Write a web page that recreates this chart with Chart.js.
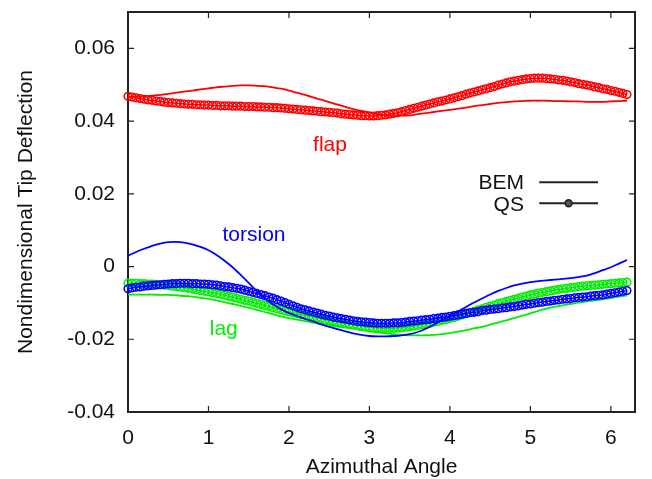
<!DOCTYPE html>
<html>
<head>
<meta charset="utf-8">
<script src="https://cdn.jsdelivr.net/npm/chart.js@4.4.1/dist/chart.umd.min.js"></script>
<style>
  html, body { margin: 0; padding: 0; background: #fff; }
  #wrap { width: 652px; height: 479px; }
</style>
</head>
<body>
<div id="wrap"><canvas id="myChart" width="652" height="479"></canvas></div>
<script>
// azimuth samples (rad)
const angleQS = [
  0, 0.05, 0.1, 0.15, 0.2, 0.25, 0.3, 0.35, 0.4, 0.45,
  0.5, 0.55, 0.6, 0.65, 0.7, 0.75, 0.8, 0.85, 0.9, 0.95,
  1, 1.05, 1.1, 1.15, 1.2, 1.25, 1.3, 1.35, 1.4, 1.45,
  1.5, 1.55, 1.6, 1.65, 1.7, 1.75, 1.8, 1.85, 1.9, 1.95,
  2, 2.05, 2.1, 2.15, 2.2, 2.25, 2.3, 2.35, 2.4, 2.45,
  2.5, 2.55, 2.6, 2.65, 2.7, 2.75, 2.8, 2.85, 2.9, 2.95,
  3, 3.05, 3.1, 3.15, 3.2, 3.25, 3.3, 3.35, 3.4, 3.45,
  3.5, 3.55, 3.6, 3.65, 3.7, 3.75, 3.8, 3.85, 3.9, 3.95,
  4, 4.05, 4.1, 4.15, 4.2, 4.25, 4.3, 4.35, 4.4, 4.45,
  4.5, 4.55, 4.6, 4.65, 4.7, 4.75, 4.8, 4.85, 4.9, 4.95,
  5, 5.05, 5.1, 5.15, 5.2, 5.25, 5.3, 5.35, 5.4, 5.45,
  5.5, 5.55, 5.6, 5.65, 5.7, 5.75, 5.8, 5.85, 5.9, 5.95,
  6, 6.05, 6.1, 6.15, 6.2
];
const angleBEM = [
  0, 0.1, 0.2, 0.3, 0.4, 0.5, 0.6, 0.7, 0.8, 0.9,
  1, 1.1, 1.2, 1.3, 1.4, 1.5, 1.6, 1.7, 1.8, 1.9,
  2, 2.1, 2.2, 2.3, 2.4, 2.5, 2.6, 2.7, 2.8, 2.9,
  3, 3.1, 3.2, 3.3, 3.4, 3.5, 3.6, 3.7, 3.8, 3.9,
  4, 4.1, 4.2, 4.3, 4.4, 4.5, 4.6, 4.7, 4.8, 4.9,
  5, 5.1, 5.2, 5.3, 5.4, 5.5, 5.6, 5.7, 5.8, 5.9,
  6, 6.1, 6.2
];

// flap
const flapBEM = [
  0.0466, 0.0467, 0.0468, 0.0470, 0.0472, 0.0475, 0.0478, 0.0481, 0.0484, 0.0487,
  0.0490, 0.0493, 0.0495, 0.0497, 0.0498, 0.0498, 0.0497, 0.0496, 0.0493, 0.0489,
  0.0484, 0.0478, 0.0472, 0.0465, 0.0459, 0.0452, 0.0446, 0.0439, 0.0433, 0.0428,
  0.0424, 0.0419, 0.0416, 0.0415, 0.0415, 0.0416, 0.0419, 0.0422, 0.0425, 0.0428,
  0.0431, 0.0434, 0.0437, 0.0441, 0.0444, 0.0447, 0.0450, 0.0452, 0.0454, 0.0455,
  0.0456, 0.0456, 0.0456, 0.0455, 0.0455, 0.0454, 0.0454, 0.0453, 0.0453, 0.0453,
  0.0454, 0.0455, 0.0456
];
const flapQS = [
  0.0468, 0.0466, 0.0464, 0.0462, 0.0460, 0.0458, 0.0457, 0.0455, 0.0454, 0.0452,
  0.0451, 0.0450, 0.0449, 0.0448, 0.0447, 0.0446, 0.0446, 0.0445, 0.0445, 0.0444,
  0.0444, 0.0443, 0.0443, 0.0442, 0.0442, 0.0442, 0.0441, 0.0441, 0.0441, 0.0440,
  0.0440, 0.0440, 0.0439, 0.0439, 0.0438, 0.0438, 0.0437, 0.0437, 0.0436, 0.0435,
  0.0434, 0.0433, 0.0432, 0.0431, 0.0430, 0.0429, 0.0428, 0.0427, 0.0426, 0.0425,
  0.0424, 0.0423, 0.0422, 0.0420, 0.0419, 0.0418, 0.0417, 0.0416, 0.0415, 0.0415,
  0.0414, 0.0414, 0.0415, 0.0416, 0.0417, 0.0419, 0.0421, 0.0423, 0.0426, 0.0429,
  0.0432, 0.0435, 0.0438, 0.0441, 0.0444, 0.0447, 0.0450, 0.0453, 0.0455, 0.0458,
  0.0461, 0.0464, 0.0467, 0.0470, 0.0474, 0.0477, 0.0480, 0.0483, 0.0486, 0.0489,
  0.0492, 0.0495, 0.0499, 0.0502, 0.0505, 0.0508, 0.0510, 0.0512, 0.0514, 0.0516,
  0.0517, 0.0518, 0.0518, 0.0518, 0.0517, 0.0516, 0.0515, 0.0513, 0.0512, 0.0510,
  0.0508, 0.0506, 0.0503, 0.0501, 0.0499, 0.0497, 0.0494, 0.0492, 0.0489, 0.0487,
  0.0484, 0.0482, 0.0479, 0.0476, 0.0473
];

// torsion
const torsionBEM = [
  0.0030, 0.0040, 0.0049, 0.0057, 0.0063, 0.0067, 0.0068, 0.0066, 0.0061, 0.0054,
  0.0045, 0.0032, 0.0016, -0.0002, -0.0023, -0.0045, -0.0068, -0.0087, -0.0104, -0.0117,
  -0.0128, -0.0136, -0.0144, -0.0151, -0.0159, -0.0166, -0.0172, -0.0178, -0.0184, -0.0188,
  -0.0191, -0.0192, -0.0192, -0.0191, -0.0189, -0.0186, -0.0180, -0.0171, -0.0160, -0.0148,
  -0.0137, -0.0124, -0.0111, -0.0099, -0.0088, -0.0077, -0.0067, -0.0059, -0.0052, -0.0047,
  -0.0043, -0.0040, -0.0038, -0.0036, -0.0034, -0.0032, -0.0029, -0.0025, -0.0018, -0.0010,
  -0.0002, 0.0008, 0.0018
];
const torsionQS = [
  -0.0061, -0.0059, -0.0057, -0.0056, -0.0054, -0.0053, -0.0052, -0.0051, -0.0050, -0.0049,
  -0.0048, -0.0047, -0.0047, -0.0046, -0.0046, -0.0046, -0.0047, -0.0047, -0.0048, -0.0048,
  -0.0049, -0.0050, -0.0051, -0.0053, -0.0055, -0.0056, -0.0058, -0.0060, -0.0062, -0.0065,
  -0.0068, -0.0071, -0.0074, -0.0077, -0.0080, -0.0084, -0.0087, -0.0091, -0.0095, -0.0099,
  -0.0104, -0.0108, -0.0112, -0.0116, -0.0119, -0.0122, -0.0125, -0.0128, -0.0131, -0.0134,
  -0.0136, -0.0139, -0.0141, -0.0143, -0.0145, -0.0147, -0.0149, -0.0151, -0.0152, -0.0153,
  -0.0154, -0.0155, -0.0156, -0.0156, -0.0156, -0.0156, -0.0155, -0.0155, -0.0154, -0.0153,
  -0.0151, -0.0150, -0.0149, -0.0147, -0.0146, -0.0145, -0.0143, -0.0142, -0.0140, -0.0139,
  -0.0137, -0.0135, -0.0133, -0.0131, -0.0129, -0.0127, -0.0126, -0.0124, -0.0121, -0.0120,
  -0.0118, -0.0117, -0.0116, -0.0114, -0.0113, -0.0111, -0.0110, -0.0108, -0.0106, -0.0104,
  -0.0103, -0.0101, -0.0099, -0.0098, -0.0096, -0.0095, -0.0093, -0.0092, -0.0090, -0.0089,
  -0.0088, -0.0086, -0.0085, -0.0084, -0.0083, -0.0081, -0.0080, -0.0079, -0.0078, -0.0076,
  -0.0074, -0.0072, -0.0070, -0.0068, -0.0066
];

// lag
const lagBEM = [
  -0.0077, -0.0077, -0.0077, -0.0077, -0.0078, -0.0078, -0.0079, -0.0081, -0.0083, -0.0086,
  -0.0089, -0.0093, -0.0098, -0.0103, -0.0108, -0.0113, -0.0119, -0.0125, -0.0131, -0.0137,
  -0.0142, -0.0146, -0.0150, -0.0154, -0.0158, -0.0161, -0.0165, -0.0168, -0.0171, -0.0175,
  -0.0178, -0.0181, -0.0184, -0.0186, -0.0188, -0.0189, -0.0189, -0.0189, -0.0188, -0.0186,
  -0.0183, -0.0179, -0.0175, -0.0170, -0.0166, -0.0160, -0.0154, -0.0148, -0.0142, -0.0135,
  -0.0129, -0.0122, -0.0116, -0.0111, -0.0107, -0.0103, -0.0099, -0.0096, -0.0093, -0.0090,
  -0.0087, -0.0083, -0.0079
];
const lagQS = [
  -0.0046, -0.0046, -0.0046, -0.0047, -0.0047, -0.0048, -0.0048, -0.0049, -0.0050, -0.0051,
  -0.0052, -0.0054, -0.0055, -0.0057, -0.0058, -0.0060, -0.0062, -0.0064, -0.0066, -0.0068,
  -0.0070, -0.0072, -0.0074, -0.0076, -0.0079, -0.0082, -0.0084, -0.0087, -0.0090, -0.0093,
  -0.0095, -0.0098, -0.0101, -0.0104, -0.0107, -0.0110, -0.0113, -0.0116, -0.0119, -0.0122,
  -0.0124, -0.0127, -0.0129, -0.0132, -0.0134, -0.0137, -0.0139, -0.0141, -0.0143, -0.0146,
  -0.0148, -0.0150, -0.0152, -0.0154, -0.0156, -0.0158, -0.0160, -0.0162, -0.0164, -0.0166,
  -0.0167, -0.0168, -0.0169, -0.0170, -0.0170, -0.0170, -0.0170, -0.0169, -0.0168, -0.0167,
  -0.0165, -0.0164, -0.0162, -0.0160, -0.0158, -0.0156, -0.0153, -0.0151, -0.0148, -0.0146,
  -0.0143, -0.0140, -0.0137, -0.0133, -0.0130, -0.0126, -0.0123, -0.0119, -0.0116, -0.0112,
  -0.0109, -0.0106, -0.0102, -0.0099, -0.0096, -0.0093, -0.0090, -0.0087, -0.0084, -0.0081,
  -0.0078, -0.0076, -0.0073, -0.0071, -0.0069, -0.0067, -0.0065, -0.0063, -0.0061, -0.0060,
  -0.0058, -0.0057, -0.0055, -0.0054, -0.0053, -0.0052, -0.0051, -0.0050, -0.0049, -0.0048,
  -0.0047, -0.0046, -0.0045, -0.0044, -0.0043
];

const xTicks = [0, 1, 2, 3, 4, 5, 6];
const yTicks = [-0.04, -0.02, 0, 0.02, 0.04, 0.06];

const RED = 'rgb(255,0,0)';
const GREEN = 'rgb(0,238,0)';
const BLUE = 'rgb(0,0,255)';
const INK = '#111';
const FONT = "'Liberation Sans', Arial, Helvetica, sans-serif";
const FS = 21;

// curve labels, in axis units
const curveLabels = [
  { text: 'flap', x: 2.51, y: 0.0318, color: RED },
  { text: 'torsion', x: 1.566, y: 0.0071, color: BLUE },
  { text: 'lag', x: 1.19, y: -0.0188, color: GREEN }
];

function pts(xs, ys) {
  return xs.map((x, i) => ({ x: x, y: ys[i] }));
}

function bem(data, color, order) {
  return {
    label: 'BEM', data: data, showLine: true, borderColor: color, borderWidth: 1.8,
    pointRadius: 0, pointHoverRadius: 0, tension: 0.3, clip: false, order: order
  };
}

function qs(data, color, order) {
  return {
    label: 'QS', data: data, showLine: true, borderColor: color, borderWidth: 1.5,
    pointStyle: 'circle', pointRadius: 3.8, pointBorderWidth: 1.6,
    pointBorderColor: color, pointBackgroundColor: 'rgba(255,255,255,0)',
    tension: 0.3, clip: false, order: order
  };
}

// gnuplot style box with inward ticks, legend and curve labels
const framePlugin = {
  id: 'frame',
  beforeDatasetsDraw(chart) {
    const { ctx, chartArea: a, scales } = chart;
    ctx.save();
    ctx.strokeStyle = '#222';
    ctx.lineWidth = 2;
    ctx.strokeRect(a.left, a.top, a.right - a.left, a.bottom - a.top);
    ctx.lineWidth = 1.2;
    ctx.beginPath();
    xTicks.forEach(v => {
      const px = scales.x.getPixelForValue(v);
      ctx.moveTo(px, a.bottom); ctx.lineTo(px, a.bottom - 6);
      ctx.moveTo(px, a.top); ctx.lineTo(px, a.top + 6);
    });
    yTicks.forEach(v => {
      const py = scales.y.getPixelForValue(v);
      ctx.moveTo(a.left, py); ctx.lineTo(a.left + 6, py);
      ctx.moveTo(a.right, py); ctx.lineTo(a.right - 6, py);
    });
    ctx.stroke();
    ctx.restore();
  },
  afterDatasetsDraw(chart) {
    const { ctx, scales } = chart;
    ctx.save();
    ctx.font = FS + 'px ' + FONT;
    ctx.textAlign = 'center';
    ctx.textBaseline = 'alphabetic';
    curveLabels.forEach(l => {
      ctx.fillStyle = l.color;
      ctx.fillText(l.text, scales.x.getPixelForValue(l.x), scales.y.getPixelForValue(l.y));
    });

    // legend
    const tx = scales.x.getPixelForValue(4.92);
    const x0 = scales.x.getPixelForValue(5.11);
    const x1 = scales.x.getPixelForValue(5.84);
    const rows = [
      { text: 'BEM', y: scales.y.getPixelForValue(0.0232), marker: false },
      { text: 'QS', y: scales.y.getPixelForValue(0.0174), marker: true }
    ];
    ctx.textAlign = 'right';
    ctx.textBaseline = 'middle';
    rows.forEach(r => {
      ctx.fillStyle = INK;
      ctx.fillText(r.text, tx, r.y + 1.5);
      ctx.strokeStyle = '#222';
      ctx.lineWidth = 2;
      ctx.beginPath();
      ctx.moveTo(x0, r.y); ctx.lineTo(x1, r.y);
      ctx.stroke();
      if (r.marker) {
        ctx.beginPath();
        ctx.arc((x0 + x1) / 2, r.y, 3.4, 0, Math.PI * 2);
        ctx.fillStyle = '#555';
        ctx.fill();
        ctx.lineWidth = 1.6;
        ctx.stroke();
      }
    });
    ctx.restore();
  }
};

window.onload = function() {
  const ctx = document.getElementById('myChart').getContext('2d');
  new Chart(ctx, {
    type: 'scatter',
    data: {
      datasets: [
        bem(pts(angleBEM, flapBEM), RED, 6),
        qs(pts(angleQS, flapQS), RED, 5),
        qs(pts(angleQS, lagQS), GREEN, 4),
        bem(pts(angleBEM, lagBEM), GREEN, 3),
        qs(pts(angleQS, torsionQS), BLUE, 2),
        bem(pts(angleBEM, torsionBEM), BLUE, 1)
      ]
    },
    options: {
      responsive: false,
      animation: false,
      events: [],
      layout: { padding: { top: 12, right: 17, left: 0, bottom: 0 } },
      plugins: {
        legend: { display: false },
        tooltip: { enabled: false }
      },
      scales: {
        x: {
          type: 'linear',
          min: 0,
          max: 6.3,
          afterBuildTicks: s => { s.ticks = xTicks.map(v => ({ value: v })); },
          afterFit: s => { s.height = 67; s.paddingLeft = 0; s.paddingRight = 0; },
          grid: { display: false, drawTicks: false },
          border: { display: false },
          ticks: {
            autoSkip: false, maxRotation: 0, padding: 14, color: INK,
            font: { family: FONT, size: FS },
            callback: v => String(v)
          },
          title: {
            display: true, text: 'Azimuthal Angle', color: INK,
            font: { family: FONT, size: FS, lineHeight: 1.1 },
            padding: { top: 0, bottom: 0 }
          }
        },
        y: {
          type: 'linear',
          min: -0.04,
          max: 0.07,
          afterBuildTicks: s => { s.ticks = yTicks.map(v => ({ value: v })); },
          afterFit: s => { s.width = 128; s.paddingTop = 0; s.paddingBottom = 0; },
          grid: { display: false, drawTicks: false },
          border: { display: false },
          ticks: {
            autoSkip: false, padding: 13, color: INK,
            font: { family: FONT, size: FS },
            callback: v => (Math.abs(v) < 1e-9 ? '0' : v.toFixed(2))
          },
          title: {
            display: true, text: 'Nondimensional Tip Deflection', color: INK,
            font: { family: FONT, size: FS, lineHeight: 1.2 },
            padding: { top: 14, bottom: 14 }
          }
        }
      }
    },
    plugins: [framePlugin]
  });
};
</script>
</body>
</html>
